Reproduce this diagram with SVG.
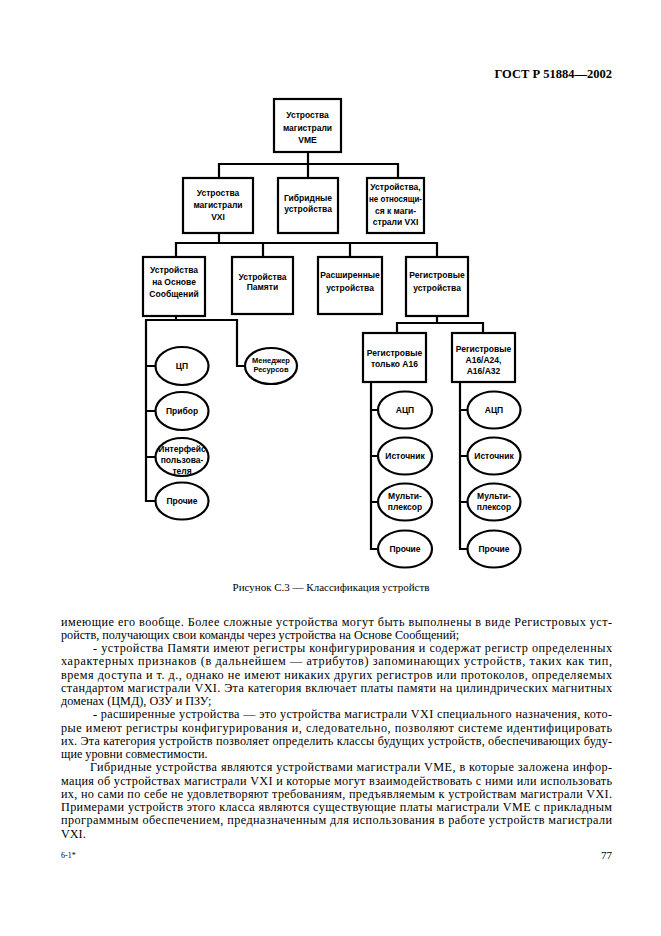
<svg xmlns="http://www.w3.org/2000/svg" width="661" height="936" viewBox="0 0 661 936">
<style>
.box{fill:#fff;stroke:#000;stroke-width:2.2}
.ell{fill:#fff;stroke:#000;stroke-width:2.2}
.ln{fill:none;stroke:#000;stroke-width:2.2;stroke-linecap:square}
.nt{font-family:"Liberation Sans",Arial,sans-serif;font-weight:bold;font-size:8.5px;text-anchor:middle;fill:#000}
.sm{font-size:7.5px}
.bd{font-family:"Liberation Serif","Times New Roman",serif;font-size:12.2px;fill:#000}
.cap{font-family:"Liberation Serif","Times New Roman",serif;font-size:11px;fill:#000;text-anchor:middle}
.hd{font-family:"Liberation Serif","Times New Roman",serif;font-size:12.5px;font-weight:bold;fill:#000;text-anchor:end}
</style>
<rect width="661" height="936" fill="#fff"/>
<text class="hd" x="612" y="78">ГОСТ Р 51884—2002</text>

<g id="connectors">
<path class="ln" d="M308,152V164M219,164H398M219,164V178M308,164V178M398,164V178"/>
<path class="ln" d="M219,233V243M176,243H437M176,243V257M263,243V257M350,243V257M437,243V257"/>
<path class="ln" d="M176,316V320M146,320H237M146,320V501M146,366H156M146,411H156M146,457H156M146,501H156M237,320V366H245"/>
<path class="ln" d="M437,316V323M397,323H483M397,323V333M483,323V333"/>
<path class="ln" d="M371,382V549M371,410H378M371,456H378M371,502H378M371,549H378"/>
<path class="ln" d="M460,382V549M460,410H468M460,456H468M460,502H468M460,549H468"/>
</g>

<g id="n-vme">
<rect class="box" x="274" y="99" width="67" height="53"/>
<text class="nt" x="307.5" y="118">Устроства</text>
<text class="nt" x="307.5" y="130.5">магистрали</text>
<text class="nt" x="307.5" y="143">VME</text>
</g>
<g id="n-vxi">
<rect class="box" x="183" y="178" width="70" height="55"/>
<text class="nt" x="218" y="196">Устроства</text>
<text class="nt" x="218" y="208">магистрали</text>
<text class="nt" x="218" y="220">VXI</text>
</g>
<g id="n-hybrid">
<rect class="box" x="278" y="178" width="60" height="55"/>
<text class="nt" x="308" y="201">Гибридные</text>
<text class="nt" x="308" y="212">устройства</text>
</g>
<g id="n-nonvxi">
<rect class="box" x="367" y="178" width="57" height="55"/>
<text class="nt" x="395.5" y="190">Устройства,</text>
<text class="nt" x="395.5" y="202" textLength="53" lengthAdjust="spacingAndGlyphs">не относящи-</text>
<text class="nt" x="395.5" y="213.5">ся к маги-</text>
<text class="nt" x="395.5" y="225">страли VXI</text>
</g>
<g id="n-msg">
<rect class="box" x="143" y="257" width="62" height="59"/>
<text class="nt" x="174" y="273">Устройства</text>
<text class="nt" x="174" y="285">на Основе</text>
<text class="nt" x="174" y="297">Сообщений</text>
</g>
<g id="n-mem">
<rect class="box" x="232" y="257" width="61" height="57"/>
<text class="nt" x="262.5" y="280">Устройства</text>
<text class="nt" x="262.5" y="290">Памяти</text>
</g>
<g id="n-ext">
<rect class="box" x="318" y="257" width="64" height="57"/>
<text class="nt" x="350" y="278">Расширенные</text>
<text class="nt" x="350" y="291">устройства</text>
</g>
<g id="n-reg">
<rect class="box" x="406" y="257" width="62" height="59"/>
<text class="nt" x="437" y="278">Регистровые</text>
<text class="nt" x="437" y="291">устройства</text>
</g>
<g id="n-cpu">
<ellipse class="ell" cx="182" cy="366" rx="26.5" ry="19"/>
<text class="nt" x="182" y="369">ЦП</text>
</g>
<g id="n-instr">
<ellipse class="ell" cx="182" cy="411" rx="26.5" ry="19"/>
<text class="nt" x="182" y="414">Прибор</text>
</g>
<g id="n-ui">
<ellipse class="ell" cx="182" cy="457" rx="26.5" ry="19"/>
<text class="nt" x="182" y="452">Интерфейс</text>
<text class="nt" x="182" y="463">пользова-</text>
<text class="nt" x="182" y="474">теля</text>
</g>
<g id="n-other1">
<ellipse class="ell" cx="182" cy="501" rx="26.5" ry="18.5"/>
<text class="nt" x="182" y="504">Прочие</text>
</g>
<g id="n-resmgr">
<ellipse class="ell" cx="271" cy="366" rx="26" ry="18"/>
<text class="nt sm" x="271" y="363">Менеджер</text>
<text class="nt sm" x="271" y="372">Ресурсов</text>
</g>
<g id="n-a16">
<rect class="box" x="363" y="333" width="63" height="49"/>
<text class="nt" x="394.5" y="356">Регистровые</text>
<text class="nt" x="394.5" y="367">только А16</text>
</g>
<g id="n-a24">
<rect class="box" x="452" y="333" width="63" height="49"/>
<text class="nt" x="483.5" y="352">Регистровые</text>
<text class="nt" x="483.5" y="363">А16/А24,</text>
<text class="nt" x="483.5" y="374">А16/А32</text>
</g>
<g id="n-adc1">
<ellipse class="ell" cx="405" cy="410" rx="27" ry="18.5"/>
<text class="nt" x="405" y="413">АЦП</text>
</g>
<g id="n-src1">
<ellipse class="ell" cx="405" cy="456" rx="27" ry="18.5"/>
<text class="nt" x="405" y="459">Источник</text>
</g>
<g id="n-mux1">
<ellipse class="ell" cx="405" cy="502" rx="27" ry="18.5"/>
<text class="nt" x="405" y="499">Мульти-</text>
<text class="nt" x="405" y="510">плексор</text>
</g>
<g id="n-oth2">
<ellipse class="ell" cx="405" cy="549" rx="27" ry="18.5"/>
<text class="nt" x="405" y="552">Прочие</text>
</g>
<g id="n-adc2">
<ellipse class="ell" cx="494" cy="410" rx="26.5" ry="18.5"/>
<text class="nt" x="494" y="413">АЦП</text>
</g>
<g id="n-src2">
<ellipse class="ell" cx="494" cy="456" rx="26.5" ry="18.5"/>
<text class="nt" x="494" y="459">Источник</text>
</g>
<g id="n-mux2">
<ellipse class="ell" cx="494" cy="502" rx="26.5" ry="18.5"/>
<text class="nt" x="494" y="499">Мульти-</text>
<text class="nt" x="494" y="510">плексор</text>
</g>
<g id="n-oth3">
<ellipse class="ell" cx="494" cy="549" rx="26.5" ry="18.5"/>
<text class="nt" x="494" y="552">Прочие</text>
</g>

<text class="cap" x="331" y="591">Рисунок С.3 — Классификация устройств</text>

<g id="body">
<text class="bd" x="61" y="625.5" textLength="551" lengthAdjust="spacing">имеющие его вообще. Более сложные устройства могут быть выполнены в виде Регистровых уст-</text>
<text class="bd" x="61" y="638.75">ройств, получающих свои команды через устройства на Основе Сообщений;</text>
<text class="bd" x="93" y="652" textLength="519" lengthAdjust="spacing">- устройства Памяти имеют регистры конфигурирования и содержат регистр определенных</text>
<text class="bd" x="61" y="665.25" textLength="551" lengthAdjust="spacing">характерных признаков (в дальнейшем — атрибутов) запоминающих устройств, таких как тип,</text>
<text class="bd" x="61" y="678.5" textLength="551" lengthAdjust="spacing">время доступа и т. д., однако не имеют никаких других регистров или протоколов, определяемых</text>
<text class="bd" x="61" y="691.75" textLength="551" lengthAdjust="spacing">стандартом магистрали VXI. Эта категория включает платы памяти на цилиндрических магнитных</text>
<text class="bd" x="61" y="705">доменах (ЦМД), ОЗУ и ПЗУ;</text>
<text class="bd" x="93" y="718.25" textLength="519" lengthAdjust="spacing">- расширенные устройства — это устройства магистрали VXI специального назначения, кото-</text>
<text class="bd" x="61" y="731.5" textLength="551" lengthAdjust="spacing">рые имеют регистры конфигурирования и, следовательно, позволяют системе идентифицировать</text>
<text class="bd" x="61" y="744.75" textLength="551" lengthAdjust="spacing">их. Эта категория устройств позволяет определить классы будущих устройств, обеспечивающих буду-</text>
<text class="bd" x="61" y="758">щие уровни совместимости.</text>
<text class="bd" x="90" y="771.25" textLength="522" lengthAdjust="spacing">Гибридные устройства являются устройствами магистрали VME, в которые заложена инфор-</text>
<text class="bd" x="61" y="784.5" textLength="551" lengthAdjust="spacing">мация об устройствах магистрали VXI и которые могут взаимодействовать с ними или использовать</text>
<text class="bd" x="61" y="797.75" textLength="551" lengthAdjust="spacing">их, но сами по себе не удовлетворяют требованиям, предъявляемым к устройствам магистрали VXI.</text>
<text class="bd" x="61" y="811" textLength="551" lengthAdjust="spacing">Примерами устройств этого класса являются существующие платы магистрали VME с прикладным</text>
<text class="bd" x="61" y="824.25" textLength="551" lengthAdjust="spacing">программным обеспечением, предназначенным для использования в работе устройств магистрали</text>
<text class="bd" x="61" y="837.5">VXI.</text>
</g>

<text x="61" y="858" font-family="Liberation Serif, serif" font-size="8px">6-1*</text>
<text x="612" y="859" font-family="Liberation Serif, serif" font-size="11px" text-anchor="end">77</text>
</svg>
